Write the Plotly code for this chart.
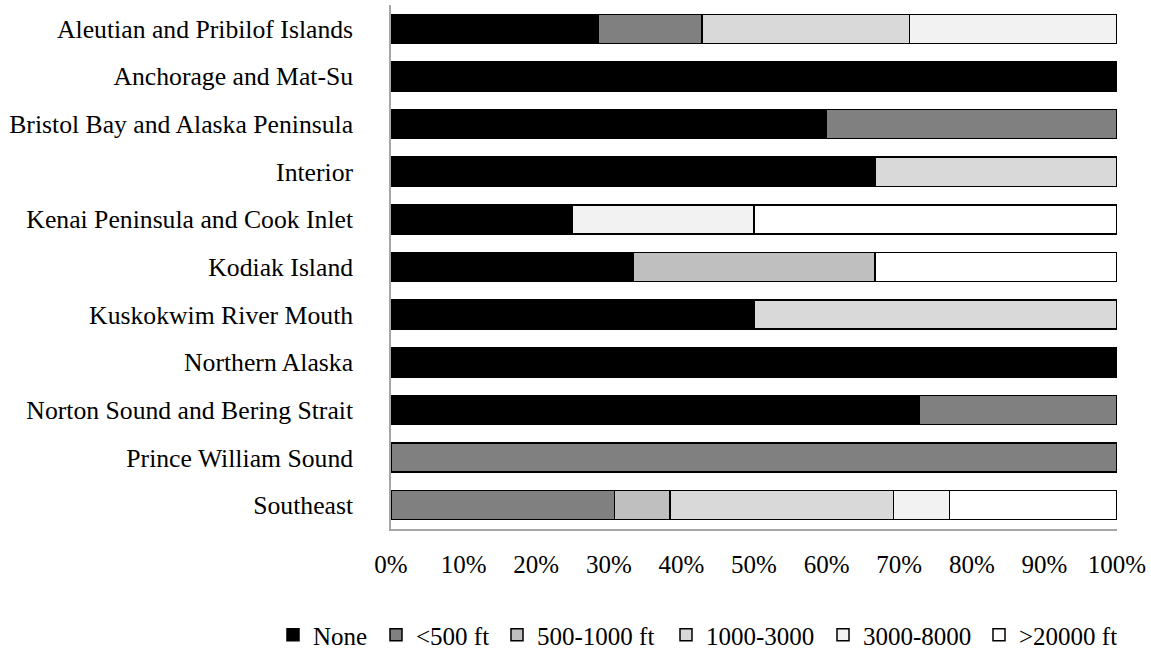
import plotly.graph_objects as go

categories = [
    "Aleutian and Pribilof Islands",
    "Anchorage and Mat-Su",
    "Bristol Bay and Alaska Peninsula",
    "Interior",
    "Kenai Peninsula and Cook Inlet",
    "Kodiak Island",
    "Kuskokwim River Mouth",
    "Northern Alaska",
    "Norton Sound and Bering Strait",
    "Prince William Sound",
    "Southeast",
]

series_names = ["None", "<500 ft", "500-1000 ft", "1000-3000", "3000-8000", ">20000 ft"]

# counts per region (normalized to percent by barnorm)
none_vals       = [2, 1, 3, 2, 1, 1, 1, 1, 8, 0, 0]
lt500_vals      = [1, 0, 2, 0, 0, 0, 0, 0, 3, 1, 4]
r500_1000_vals  = [0, 0, 0, 0, 0, 1, 0, 0, 0, 0, 1]
r1000_3000_vals = [2, 0, 0, 1, 0, 0, 1, 0, 0, 0, 4]
r3000_8000_vals = [2, 0, 0, 0, 1, 0, 0, 0, 0, 0, 1]
gt20000_vals    = [0, 0, 0, 0, 2, 1, 0, 0, 0, 0, 3]

series_values = [none_vals, lt500_vals, r500_1000_vals, r1000_3000_vals, r3000_8000_vals, gt20000_vals]
colors = ["#000000", "#808080", "#bfbfbf", "#d9d9d9", "#f2f2f2", "#ffffff"]

x_ticks = [0, 10, 20, 30, 40, 50, 60, 70, 80, 90, 100]
x_tick_labels = ["0%", "10%", "20%", "30%", "40%", "50%", "60%", "70%", "80%", "90%", "100%"]

FONT = "Liberation Serif, Times New Roman, serif"

W, H = 1151, 651
ML, MR, MT, MB = 391, 34, 5, 122
PW = W - ML - MR
PH = H - MT - MB

# legend text start pixels (one legend per entry to mimic the compact spacing)
legend_text_px = [310, 413, 534, 703, 860, 1016]
legend_y_px = 635

fig = go.Figure()
legend_ids = ["legend"] + [f"legend{i}" for i in range(2, 7)]
for name, vals, col, lid in zip(series_names, series_values, colors, legend_ids):
    fig.add_trace(go.Bar(
        y=categories, x=vals, name=name, orientation="h",
        marker=dict(color=col, line=dict(color="#000000", width=1.5)),
        legend=lid,
    ))

layout_legends = {}
for lid, tx in zip(legend_ids, legend_text_px):
    left = tx - 37
    layout_legends[lid] = dict(
        orientation="h",
        x=(left - ML) / PW, xanchor="left",
        y=(MT + PH - legend_y_px) / PH, yanchor="middle",
        font=dict(family=FONT, size=25, color="#000000"),
        itemwidth=30, bgcolor="rgba(0,0,0,0)", borderwidth=0,
    )

fig.update_layout(
    barmode="stack",
    barnorm="percent",
    bargap=0.39,
    width=W, height=H,
    margin=dict(l=ML, r=MR, t=MT, b=MB, autoexpand=False),
    plot_bgcolor="white", paper_bgcolor="white",
    font=dict(family=FONT, size=25, color="#000000"),
    showlegend=True,
    **layout_legends,
)
fig.update_xaxes(
    range=[0, 100], tickvals=x_ticks, ticktext=x_tick_labels,
    showgrid=False, zeroline=False,
    showline=True, linecolor="#a6a6a6", linewidth=1.5,
    ticks="outside", ticklen=12, tickcolor="rgba(0,0,0,0)",
    tickfont=dict(family=FONT, size=25, color="#000000"),
)
fig.update_yaxes(
    autorange="reversed", showgrid=False, zeroline=False,
    showline=True, linecolor="#a6a6a6", linewidth=1.5,
    ticks="outside", ticklen=31, tickcolor="rgba(0,0,0,0)",
    tickfont=dict(family=FONT, size=25.7, color="#000000"),
)

fig.write_html("out.html", config={"displayModeBar": False},
               post_script="document.body.style.margin='0px';")
